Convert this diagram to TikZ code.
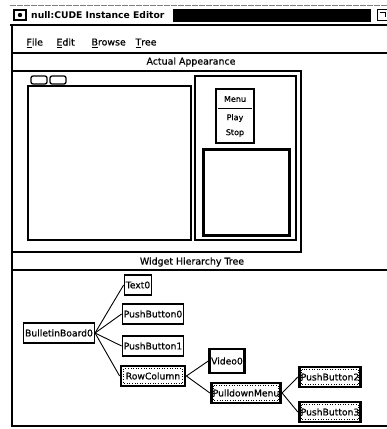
\documentclass[tikz,border=0pt]{standalone}
\usepackage{fontspec}
\setmainfont{DejaVu Sans}
\newfontfamily\guifont{DejaVu Sans}[FakeBold=0.6]
\begin{document}
\begin{tikzpicture}[x=1pt,y=-1pt,
    widget/.style={shape=rectangle,draw=black,line width=1.3pt,inner xsep=1.5pt,
      minimum height=20pt,font=\guifont\fontsize{9.2}{11}\selectfont},
    picked/.style={widget,line width=2.8pt},
    focus/.style={picked,path picture={\draw[dotted,line width=0.6pt]
      ([shift={(2.5pt,-2.5pt)}]path picture bounding box.north west) rectangle
      ([shift={(-2.5pt,2.5pt)}]path picture bounding box.south east);}},
    link/.style={line width=0.9pt},
    frame/.style={line width=1.3pt},
    label/.style={font=\guifont\fontsize{9.4}{11}\selectfont}]
  \useasboundingbox (0,0) rectangle (387,429);

  % title bar
  \draw[gray,line width=0.8pt,dash pattern=on 6pt off 1pt] (10,5) -- (387,5);
  \draw[line width=1.2pt] (14,10) rectangle (26,20);
  \fill (20,15) circle (2.2pt);
  \node[anchor=west,inner sep=0pt] (title) at (31,15) {\fontsize{9.2}{11}\selectfont\bfseries null:CUDE Instance Editor};
  \fill (173,9) rectangle (371,22);
  \draw[line width=1pt] (377,9) rectangle (388,20);
  \draw[line width=1pt] (380,12) -- (385,12) -- (385,17);
  \draw[line width=1.8pt] (10,25) -- (387,25);

  % menu bar
  \draw[line width=2pt] (12,26) -- (12,53);
  \draw[line width=1.8pt] (12,53) -- (387,53);
  \node[label,anchor=west] (file) at (23,43) {\underline{F}ile};
  \node[label,anchor=west] (edit) at (53,43) {\underline{E}dit};
  \node[label,anchor=west] (browse) at (88,43) {\underline{B}rowse};
  \node[label,anchor=west] (tree) at (132,43) {\underline{T}ree};

  % actual appearance
  \draw[frame] (12,53) -- (12,426) -- (387,426);
  \node[label] (appear) at (191,62) {Actual Appearance};
  \draw[frame] (12,71) rectangle (301,252);
  \draw[line width=1.3pt] (28,86) rectangle (191,240);
  \draw[line width=1.3pt,rounded corners=2pt] (31,76) rectangle (47,84);
  \draw[line width=1.3pt,rounded corners=2pt] (50,76) rectangle (66,84);
  \draw[frame] (195,76) rectangle (296,240);
  \draw[line width=1.3pt] (216,89) rectangle (254,143);
  \draw[line width=1pt] (218,108) -- (252,108);
  \node[font=\guifont\fontsize{8}{10}\selectfont] (menu) at (235,99) {Menu};
  \node[font=\guifont\fontsize{8}{10}\selectfont] (play) at (235,118) {Play};
  \node[font=\guifont\fontsize{8}{10}\selectfont] (stop) at (235,133) {Stop};
  \draw[line width=3pt] (203,149) rectangle (289,235);

  % widget hierarchy tree
  \node[label] (hier) at (192,262) {Widget Hierarchy Tree};
  \draw[line width=1.5pt] (12,270) -- (387,270);

  \node[widget] (board) at (59,333) {BulletinBoard0};
  \node[widget] (text) at (138,285) {Text0};
  \node[widget] (pb0) at (153,314) {PushButton0};
  \node[widget] (pb1) at (153,346) {PushButton1};
  \node[focus,minimum width=64pt] (rowcol) at (153,376) {RowColumn};
  \node[picked,minimum height=24pt] (video) at (227,361) {Video0};
  \node[focus] (pulldown) at (246,393) {PulldownMenu};
  \node[focus] (pb2) at (330,377) {PushButton2};
  \node[focus] (pb3) at (330,412) {PushButton3};

  \draw[link] (board.east) -- (text.west);
  \draw[link] (board.east) -- (pb0.west);
  \draw[link] (board.east) -- (pb1.west);
  \draw[link] (board.east) -- (rowcol.west);
  \draw[link] (rowcol.east) -- (video.west);
  \draw[link] (rowcol.east) -- (pulldown.west);
  \draw[link] (pulldown.east) -- (pb2.west);
  \draw[link] (pulldown.east) -- (pb3.west);
\end{tikzpicture}
\end{document}
